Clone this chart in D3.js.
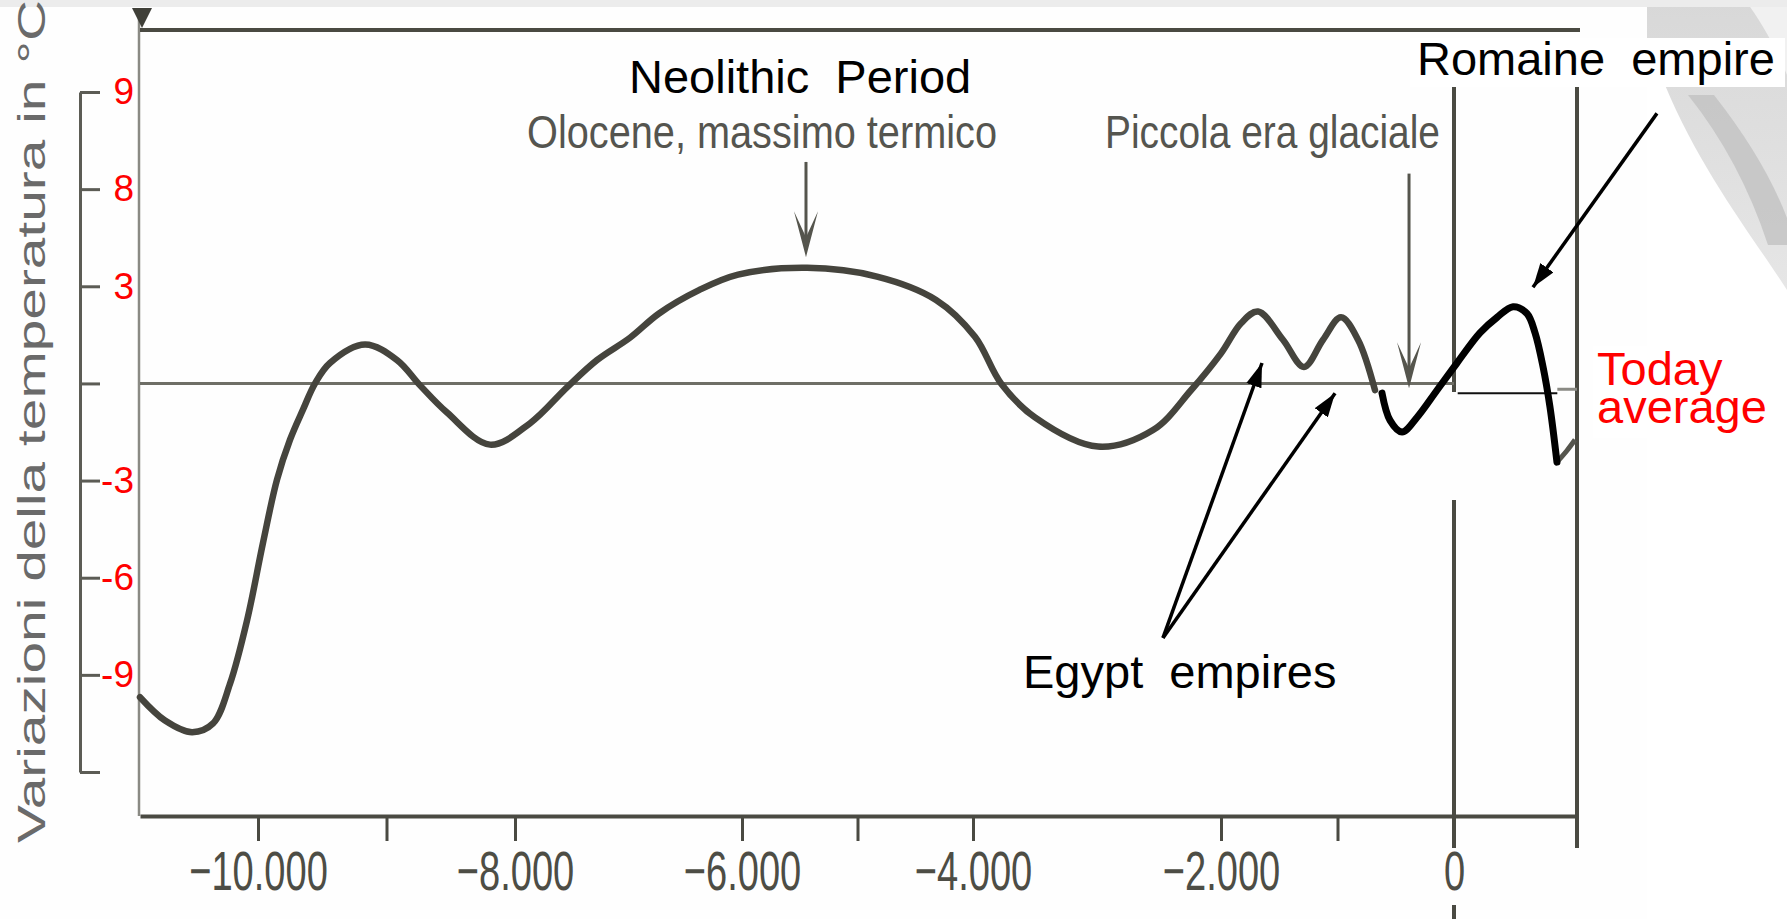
<!DOCTYPE html>
<html>
<head>
<meta charset="utf-8">
<script src="https://cdn.jsdelivr.net/npm/d3@7"></script>
<style>
  html, body { margin: 0; padding: 0; background: #fff; }
  svg { display: block; font-family: "Liberation Sans", Arial, Helvetica, sans-serif; }
</style>
</head>
<body>
<div id="chart-area"></div>
<script>
// temperature variation curve (years, value in tick units of the left scale)
const holoceneYears = [-11000, -10788, -10559, -10381, -10237, -10093, -9961, -9852, -9751, -9650,
  -9556, -9440, -9167, -8918, -8739, -8529, -8195, -7868, -7542, -7278,
  -6987, -6731, -6379, -6035, -5437, -4831, -4320, -3984, -3774, -3500,
  -2992, -2548, -2242, -2000, -1828, -1682, -1468, -1288, -1124, -970, -824, -678];
const holoceneValues = [-3.23, -3.47, -3.59, -3.50, -3.09, -2.44, -1.64, -0.99, -0.58, -0.27,
  0.00, 0.21, 0.40, 0.24, -0.02, -0.30, -0.63, -0.41, -0.04, 0.24,
  0.47, 0.72, 0.96, 1.12, 1.19, 1.10, 0.86, 0.48, 0.00, -0.35,
  -0.65, -0.48, -0.07, 0.31, 0.62, 0.74, 0.45, 0.17, 0.45, 0.68, 0.45, -0.07];

// overlaid black curve (roman period)
const romanYears = [-618, -549, -446, -318, -146, 24, 211, 350, 480, 593, 659, 724, 780, 837];
const romanValues = [-0.10, -0.38, -0.50, -0.35, -0.07, 0.21, 0.52, 0.68, 0.79, 0.72, 0.52, 0.17, -0.24, -0.81];

// short grey piece after the black curve
const tailYears = [837, 919, 984];
const tailValues = [-0.81, -0.69, -0.58];

const xMajorTicks = [-10000, -8000, -6000, -4000, -2000, 0];
const xMajorLabels = ["\u221210.000", "\u22128.000", "\u22126.000", "\u22124.000", "\u22122.000", "0"];
const xMinorTicks = [-9000, -5000, -1000];

const yTickValues = [3, 2, 1, 0, -1, -2, -3, -4];
const yTickLabels = ["9", "8", "3", "", "-3", "-6", "-9", ""];

const W = 1787, H = 919;
const plot = {left: 140, right: 1577, top: 30, bottom: 816};
const frameColor = "#4a4a42";

// the scanned time axis is not evenly spaced, so the scale is calibrated on its tick marks
const x = d3.scaleLinear()
  .domain([-11000, -10000, -8000, -6000, -4000, -2000, 0, 1000])
  .range([plot.left, 258, 515, 742, 973, 1221, 1454, plot.right]);
const y = d3.scaleLinear().domain([-4, 3]).range([772, 92]);

const svg = d3.select("#chart-area")
  .append("svg")
  .attr("width", W)
  .attr("height", H);

// ---- slide background (grey swoosh top right) ----
const defs = svg.append("defs");
const grad = defs.append("linearGradient").attr("id", "swoosh")
  .attr("x1", 0).attr("y1", 0).attr("x2", 0).attr("y2", 1);
grad.append("stop").attr("offset", "0%").attr("stop-color", "#d8d8d8");
grad.append("stop").attr("offset", "100%").attr("stop-color", "#e6e6e6");

svg.append("rect").attr("width", W).attr("height", H).attr("fill", "#fff");
svg.append("path")
  .attr("d", "M1600,0 L1787,0 L1787,290 C1755,240 1700,170 1665,85 C1650,45 1630,20 1600,0 Z")
  .attr("fill", "url(#swoosh)");
svg.append("path")
  .attr("d", "M1745,0 L1787,0 L1787,75 C1775,45 1760,20 1745,0 Z")
  .attr("fill", "#f1f1f1");
svg.append("path")
  .attr("d", "M1688,95 Q1740,160 1768,245 L1787,245 L1787,218 Q1765,160 1714,95 Z")
  .attr("fill", "#c2c2c2").attr("opacity", 0.8);
svg.append("rect").attr("x", 0).attr("y", 0).attr("width", W).attr("height", 7).attr("fill", "#ececec");
// the scanned figure itself
svg.append("rect").attr("x", 0).attr("y", 7).attr("width", 1647).attr("height", H - 7).attr("fill", "#fefefe");

// ---- frame ----
svg.append("line")
  .attr("x1", plot.left - 1).attr("x2", plot.left - 1)
  .attr("y1", 10).attr("y2", plot.bottom)
  .attr("stroke", "#8a8a84").attr("stroke-width", 2.5);
svg.append("path")
  .attr("d", "M132,8 L152,8 L142,28 Z")
  .attr("fill", "#3f3f38");
svg.append("line")
  .attr("x1", plot.left).attr("x2", plot.right + 3)
  .attr("y1", plot.top).attr("y2", plot.top)
  .attr("stroke", frameColor).attr("stroke-width", 4);

// right frame and the year 0 line
svg.append("line")
  .attr("x1", plot.right).attr("x2", plot.right)
  .attr("y1", 87).attr("y2", 848)
  .attr("stroke", frameColor).attr("stroke-width", 4);
[[87, 392], [500, 848], [905, 919]].forEach(([a, b]) => {
  svg.append("line")
    .attr("x1", x(0)).attr("x2", x(0))
    .attr("y1", a).attr("y2", b)
    .attr("stroke", frameColor).attr("stroke-width", 4);
});

// ---- x axis ----
const xAxis = d3.axisBottom(x)
  .tickValues(xMajorTicks)
  .tickFormat((d, i) => xMajorLabels[i])
  .tickSize(25)
  .tickSizeOuter(0);

const xAxisG = svg.append("g")
  .attr("class", "x-axis")
  .attr("transform", `translate(0, ${plot.bottom})`)
  .call(xAxis);
xAxisG.select(".domain").attr("stroke", frameColor).attr("stroke-width", 4);
xAxisG.selectAll(".tick line").attr("stroke", frameColor).attr("stroke-width", 3);
xAxisG.selectAll(".tick text")
  .attr("y", 74)
  .attr("dy", null)
  .attr("transform", "scale(0.68, 1)")
  .attr("fill", "#4d4d45")
  .style("font-size", "56px")
  .style("font-family", "\"Liberation Sans Narrow\", \"Liberation Sans\", Arial, sans-serif");

const xMinorG = svg.append("g")
  .attr("transform", `translate(0, ${plot.bottom})`)
  .call(d3.axisBottom(x).tickValues(xMinorTicks).tickFormat("").tickSize(25).tickSizeOuter(0));
xMinorG.select(".domain").remove();
xMinorG.selectAll(".tick line").attr("stroke", frameColor).attr("stroke-width", 3);

// ---- y axis (bracket scale at the left) ----
const yAxis = d3.axisRight(y)
  .tickValues(yTickValues)
  .tickFormat((d, i) => yTickLabels[i])
  .tickSize(20)
  .tickSizeOuter(0);

const yAxisG = svg.append("g")
  .attr("class", "y-axis")
  .attr("transform", "translate(80, 0)")
  .call(yAxis);
yAxisG.select(".domain").attr("stroke", "#5c5c55").attr("stroke-width", 3);
yAxisG.selectAll(".tick line").attr("stroke", "#5c5c55").attr("stroke-width", 3);
yAxisG.selectAll(".tick text")
  .attr("x", 54)
  .attr("text-anchor", "end")
  .attr("fill", "#ff0000")
  .style("font-size", "37px");

svg.append("text")
  .attr("transform", "translate(45, 843) rotate(-90)")
  .attr("textLength", 843)
  .attr("lengthAdjust", "spacingAndGlyphs")
  .attr("fill", "#6a6a6a")
  .style("font-size", "39px")
  .text("Variazioni della temperatura in °C");

// ---- zero (today average) line ----
svg.append("line")
  .attr("x1", plot.left).attr("x2", x(0))
  .attr("y1", y(0)).attr("y2", y(0))
  .attr("stroke", "#6e6e66").attr("stroke-width", 3);
svg.append("line")
  .attr("x1", x(30)).attr("x2", x(840))
  .attr("y1", y(-0.1)).attr("y2", y(-0.1))
  .attr("stroke", "#111").attr("stroke-width", 2);
svg.append("line")
  .attr("x1", x(840)).attr("x2", plot.right)
  .attr("y1", y(-0.06)).attr("y2", y(-0.06))
  .attr("stroke", "#8a8a84").attr("stroke-width", 3);

// ---- curves ----
const line = d3.line()
  .x(d => x(d.year))
  .y(d => y(d.value))
  .curve(d3.curveCatmullRom.alpha(0.5));

const toPoints = (years, values) => years.map((year, i) => ({year, value: values[i]}));

svg.append("path")
  .datum(toPoints(holoceneYears, holoceneValues))
  .attr("d", line)
  .attr("fill", "none")
  .attr("stroke", "#45443d")
  .attr("stroke-width", 6.5)
  .attr("stroke-linecap", "round");

svg.append("path")
  .datum(toPoints(tailYears, tailValues))
  .attr("d", line)
  .attr("fill", "none")
  .attr("stroke", "#55554d")
  .attr("stroke-width", 5);

svg.append("path")
  .datum(toPoints(romanYears, romanValues))
  .attr("d", line)
  .attr("fill", "none")
  .attr("stroke", "#000")
  .attr("stroke-width", 7)
  .attr("stroke-linecap", "round");

// ---- annotations ----
defs.append("marker")
  .attr("id", "head")
  .attr("markerUnits", "userSpaceOnUse")
  .attr("markerWidth", 24).attr("markerHeight", 16)
  .attr("refX", 24).attr("refY", 8)
  .attr("orient", "auto")
  .append("path")
  .attr("d", "M0,0 L24,8 L0,16 Z")
  .attr("fill", "#000");

// grey down arrows from the original figure
const greyArrows = [
  {year: -5446, from: 2.28, to: 1.30},
  {year: -386, from: 2.16, to: -0.05}
];
greyArrows.forEach(a => {
  const ax = x(a.year), y1 = y(a.from), y2 = y(a.to);
  svg.append("line")
    .attr("x1", ax).attr("x2", ax)
    .attr("y1", y1).attr("y2", y2 - 12)
    .attr("stroke", "#55554d").attr("stroke-width", 3);
  svg.append("path")
    .attr("d", `M${ax - 12},${y2 - 46} L${ax},${y2} L${ax + 12},${y2 - 46} L${ax},${y2 - 20} Z`)
    .attr("fill", "#55554d");
});

// black pointer arrows
const blackArrows = [
  {from: [1650, 2.78], to: [642, 0.99]},
  {from: [-2468, -2.62], to: [-1648, 0.21]},
  {from: [-2468, -2.62], to: [-1021, -0.10]}
];
blackArrows.forEach(a => {
  svg.append("line")
    .attr("x1", x(a.from[0])).attr("y1", y(a.from[1]))
    .attr("x2", x(a.to[0])).attr("y2", y(a.to[1]))
    .attr("stroke", "#000").attr("stroke-width", 3.5)
    .attr("marker-end", "url(#head)");
});

// white boxes behind pasted labels
svg.append("rect").attr("x", 1410).attr("y", 38).attr("width", 375).attr("height", 49).attr("fill", "#fff");
svg.append("rect").attr("x", 1593).attr("y", 346).attr("width", 179).attr("height", 92).attr("fill", "#fff");

const labels = [
  {text: "Neolithic  Period", x: 629, y: 93, fill: "#000"},
  {text: "Romaine  empire", x: 1417, y: 75, fill: "#000"},
  {text: "Egypt  empires", x: 1023, y: 688, fill: "#000"}
];
labels.forEach(l => {
  svg.append("text")
    .attr("x", l.x).attr("y", l.y)
    .attr("fill", l.fill)
    .style("font-size", "47px")
    .style("white-space", "pre")
    .text(l.text);
});

// two-line red label
const today = svg.append("text")
  .attr("x", 1597).attr("y", 385)
  .attr("fill", "#ff0000")
  .style("font-size", "47px");
today.append("tspan").attr("x", 1597).text("Today");
today.append("tspan").attr("x", 1597).attr("dy", 38).text("average");

const scanLabels = [
  {text: "Olocene, massimo termico", x: 527, y: 148, len: 470},
  {text: "Piccola era glaciale", x: 1105, y: 148, len: 335}
];
scanLabels.forEach(l => {
  svg.append("text")
    .attr("x", l.x).attr("y", l.y)
    .attr("textLength", l.len)
    .attr("lengthAdjust", "spacingAndGlyphs")
    .attr("fill", "#55554f")
    .style("font-size", "47px")
    .text(l.text);
});
</script>
</body>
</html>
